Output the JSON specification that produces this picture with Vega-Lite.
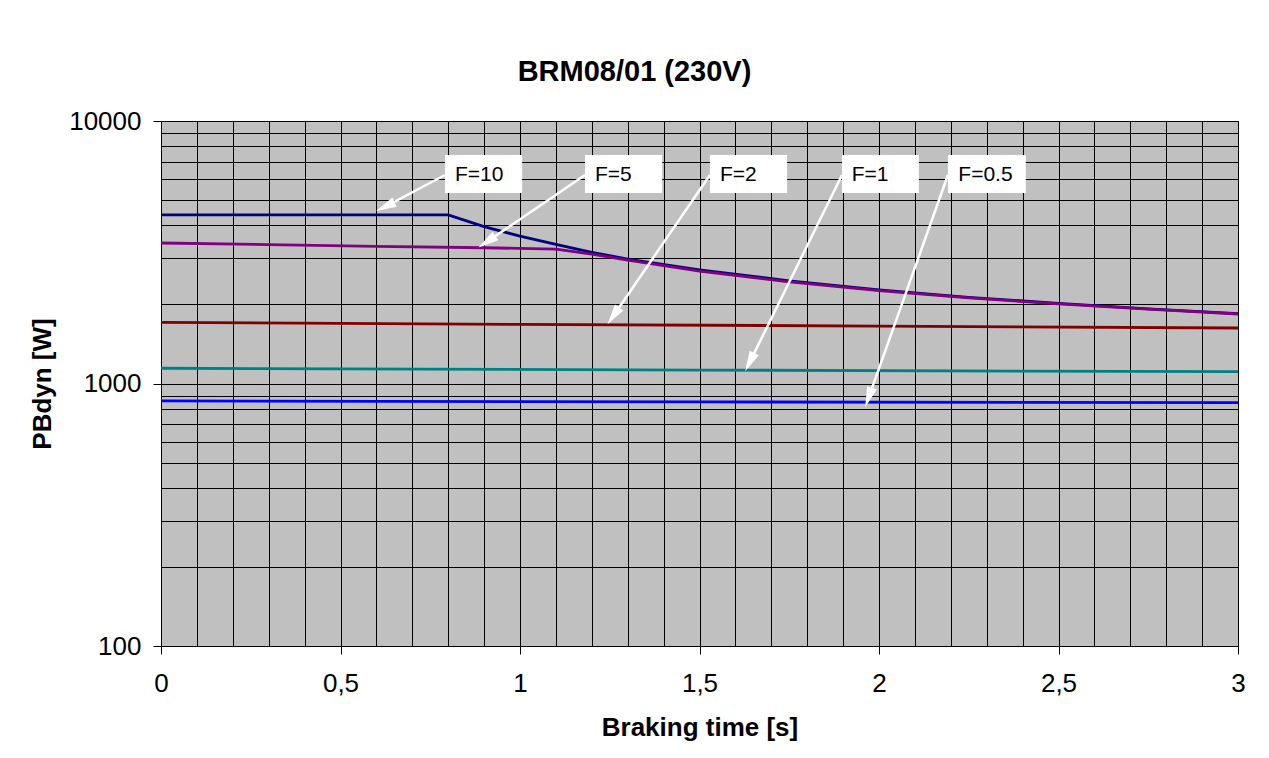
{
  "$schema": "https://vega.github.io/schema/vega-lite/v6.json",
  "width": 1077,
  "height": 525,
  "autosize": {"type": "none"},
  "padding": {"left": 161, "top": 121, "right": 31, "bottom": 112},
  "background": "white",
  "config": {
    "font": "Liberation Sans",
    "view": {"fill": "#C0C0C0", "stroke": "#808080", "strokeWidth": 1}
  },
  "title": {
    "text": "BRM08/01 (230V)",
    "font": "Liberation Sans",
    "fontSize": 29,
    "fontWeight": "bold",
    "color": "#000000",
    "anchor": "middle",
    "frame": "group",
    "dx": -65,
    "baseline": "alphabetic",
    "offset": -2
  },
  "datasets": {
    "curves": [
      {"series": "F=10", "t": 0, "p": 4390},
      {"series": "F=10", "t": 0.8, "p": 4390},
      {"series": "F=10", "t": 0.9, "p": 3960},
      {"series": "F=10", "t": 1.0, "p": 3640},
      {"series": "F=10", "t": 1.1, "p": 3390},
      {"series": "F=10", "t": 1.2, "p": 3160},
      {"series": "F=10", "t": 1.3, "p": 2980},
      {"series": "F=10", "t": 1.5, "p": 2710},
      {"series": "F=10", "t": 1.75, "p": 2460},
      {"series": "F=10", "t": 2.0, "p": 2275},
      {"series": "F=10", "t": 2.25, "p": 2130},
      {"series": "F=10", "t": 2.5, "p": 2020},
      {"series": "F=10", "t": 2.75, "p": 1925},
      {"series": "F=10", "t": 3.0, "p": 1845},
      {"series": "F=5", "t": 0, "p": 3430},
      {"series": "F=5", "t": 0.3, "p": 3380},
      {"series": "F=5", "t": 0.6, "p": 3330},
      {"series": "F=5", "t": 0.9, "p": 3290},
      {"series": "F=5", "t": 1.1, "p": 3250},
      {"series": "F=5", "t": 1.2, "p": 3110},
      {"series": "F=5", "t": 1.3, "p": 2950},
      {"series": "F=5", "t": 1.5, "p": 2680},
      {"series": "F=5", "t": 1.75, "p": 2440},
      {"series": "F=5", "t": 2.0, "p": 2260},
      {"series": "F=5", "t": 2.25, "p": 2120},
      {"series": "F=5", "t": 2.5, "p": 2010},
      {"series": "F=5", "t": 2.75, "p": 1920},
      {"series": "F=5", "t": 3.0, "p": 1840},
      {"series": "F=2", "t": 0, "p": 1710},
      {"series": "F=2", "t": 1, "p": 1680},
      {"series": "F=2", "t": 2, "p": 1655},
      {"series": "F=2", "t": 3, "p": 1627},
      {"series": "F=1", "t": 0, "p": 1143},
      {"series": "F=1", "t": 1.5, "p": 1125},
      {"series": "F=1", "t": 3, "p": 1109},
      {"series": "F=0.5", "t": 0, "p": 858},
      {"series": "F=0.5", "t": 1.5, "p": 851},
      {"series": "F=0.5", "t": 3, "p": 845}
    ],
    "boxes": [
      {"label": "F=10", "t": 0.791, "t2": 1.006, "p": 7421, "p2": 5317},
      {"label": "F=5", "t": 1.181, "t2": 1.396, "p": 7421, "p2": 5317},
      {"label": "F=2", "t": 1.529, "t2": 1.744, "p": 7421, "p2": 5317},
      {"label": "F=1", "t": 1.897, "t2": 2.111, "p": 7421, "p2": 5317},
      {"label": "F=0.5", "t": 2.192, "t2": 2.409, "p": 7421, "p2": 5317}
    ],
    "arrows": [
      {"label": "F=10", "t": 0.791, "p": 6227, "t2": 0.625, "p2": 4720},
      {"label": "F=5", "t": 1.181, "p": 6227, "t2": 0.908, "p2": 3465},
      {"label": "F=2", "t": 1.529, "p": 6227, "t2": 1.26, "p2": 1809},
      {"label": "F=1", "t": 1.897, "p": 6227, "t2": 1.64, "p2": 1206},
      {"label": "F=0.5", "t": 2.192, "p": 6227, "t2": 1.971, "p2": 884}
    ],
    "heads": [
      {"label": "F=10", "t": 0.625, "p": 4720, "angle": 244.4},
      {"label": "F=5", "t": 0.908, "p": 3465, "angle": 235.7},
      {"label": "F=2", "t": 1.26, "p": 1809, "angle": 214.5},
      {"label": "F=1", "t": 1.64, "p": 1206, "angle": 206.2},
      {"label": "F=0.5", "t": 1.971, "p": 884, "angle": 199.6}
    ],
    "texts": [
      {"label": "F=10", "t": 0.819, "p": 6227},
      {"label": "F=5", "t": 1.209, "p": 6227},
      {"label": "F=2", "t": 1.557, "p": 6227},
      {"label": "F=1", "t": 1.924, "p": 6227},
      {"label": "F=0.5", "t": 2.221, "p": 6227}
    ]
  },
  "encoding": {
    "x": {
      "field": "t",
      "type": "quantitative",
      "scale": {"domain": [0, 3], "nice": false, "zero": false},
      "axis": {
        "title": "Braking time [s]",
        "titleFont": "Liberation Sans",
        "titleFontSize": 26,
        "titleFontWeight": "bold",
        "titleColor": "#000000",
        "titlePadding": 18,
        "values": [0, 0.1, 0.2, 0.3, 0.4, 0.5, 0.6, 0.7, 0.8, 0.9, 1, 1.1, 1.2, 1.3, 1.4, 1.5, 1.6, 1.7, 1.8, 1.9, 2, 2.1, 2.2, 2.3, 2.4, 2.5, 2.6, 2.7, 2.8, 2.9, 3],
        "labelExpr": "indexof([0,0.5,1,1.5,2,2.5,3], datum.value) >= 0 ? replace(format(datum.value, '~g'), '.', ',') : ''",
        "labelFont": "Liberation Sans",
        "labelFontSize": 26,
        "labelColor": "#000000",
        "labelPadding": 16,
        "labelFlush": false,
        "labelOverlap": false,
        "tickColor": "#000000",
        "tickSize": 8,
        "tickOpacity": {"condition": {"test": "indexof([0,0.5,1,1.5,2,2.5,3], datum.value) >= 0", "value": 1}, "value": 0},
        "domainColor": "#000000",
        "domainWidth": 1,
        "grid": true,
        "gridColor": "#000000",
        "gridWidth": 1,
        "gridOpacity": 1
      }
    },
    "y": {
      "field": "p",
      "type": "quantitative",
      "scale": {"type": "log", "domain": [100, 10000], "nice": false},
      "axis": {
        "title": "PBdyn [W]",
        "titleFont": "Liberation Sans",
        "titleFontSize": 26,
        "titleFontWeight": "bold",
        "titleColor": "#000000",
        "titlePadding": 13,
        "values": [100, 200, 300, 400, 500, 600, 700, 800, 900, 1000, 2000, 3000, 4000, 5000, 6000, 7000, 8000, 9000, 10000],
        "labelExpr": "indexof([100,1000,10000], datum.value) >= 0 ? format(datum.value, 'd') : ''",
        "labelFont": "Liberation Sans",
        "labelFontSize": 26,
        "labelColor": "#000000",
        "labelPadding": 12,
        "labelFlush": false,
        "labelOverlap": false,
        "tickColor": "#000000",
        "tickSize": 8,
        "tickOpacity": {"condition": {"test": "indexof([100,1000,10000], datum.value) >= 0", "value": 1}, "value": 0},
        "domainColor": "#000000",
        "domainWidth": 1,
        "grid": true,
        "gridColor": "#000000",
        "gridWidth": 1,
        "gridOpacity": 1
      }
    }
  },
  "layer": [
    {
      "data": {"name": "curves"},
      "mark": {"type": "line", "strokeWidth": 2.8, "clip": true},
      "encoding": {
        "color": {
          "field": "series",
          "type": "nominal",
          "scale": {"domain": ["F=10", "F=5", "F=2", "F=1", "F=0.5"], "range": ["#000080", "#800080", "#800000", "#008080", "#0000FF"]},
          "legend": null
        },
        "detail": {"field": "series"}
      }
    },
    {
      "data": {"name": "boxes"},
      "mark": {"type": "rect", "fill": "#FFFFFF", "stroke": null},
      "encoding": {
        "x2": {"field": "t2"},
        "y2": {"field": "p2"}
      }
    },
    {
      "data": {"name": "arrows"},
      "mark": {"type": "rule", "color": "#FFFFFF", "strokeWidth": 2.5},
      "encoding": {
        "x2": {"field": "t2"},
        "y2": {"field": "p2"}
      }
    },
    {
      "data": {"name": "heads"},
      "mark": {"type": "point", "shape": "M0,-1L-0.5,1L0.5,1Z", "filled": true, "color": "#FFFFFF", "size": 420, "opacity": 1},
      "encoding": {
        "angle": {"field": "angle", "type": "quantitative", "scale": null}
      }
    },
    {
      "data": {"name": "texts"},
      "mark": {"type": "text", "align": "left", "baseline": "middle", "font": "Liberation Sans", "fontSize": 21, "color": "#000000"},
      "encoding": {
        "text": {"field": "label"}
      }
    }
  ]
}
